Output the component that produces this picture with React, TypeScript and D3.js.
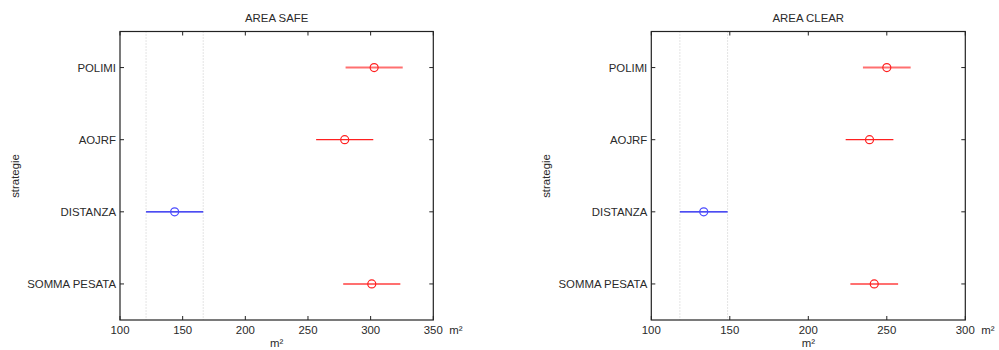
import React from "react";
import { scaleLinear } from "d3";

// strategies, top to bottom
const categories = ["POLIMI", "AOJRF", "DISTANZA", "SOMMA PESATA"];

// AREA SAFE: group means and interval half width
const safeMeans = [302.8, 279.3, 143.6, 300.9];
const safeHalfWidth = 22.8;
const safeTicks = [100, 150, 200, 250, 300, 350];

// AREA CLEAR
const clearMeans = [250.0, 239.0, 133.4, 242.0];
const clearHalfWidth = 15.2;
const clearTicks = [100, 150, 200, 250, 300];

// which group is selected (blue) in the comparison
const selected = 2;

const FONT = "'Liberation Sans', Arial, sans-serif";

function Panel({ x0, x1, title, means, half, ticks }) {
  const top = 31.5;
  const bottom = 320;
  const xScale = scaleLinear().domain([ticks[0], ticks[ticks.length - 1]]).range([x0, x1]);
  const yScale = scaleLinear().domain([0.5, categories.length + 0.5]).range([top, bottom]);
  const selLo = means[selected] - half;
  const selHi = means[selected] + half;

  return (
    <g fontFamily={FONT} fontSize={11.4} fill="#2a2a2a">
      <text x={(x0 + x1) / 2} y={22} textAnchor="middle">{title}</text>

      {/* dotted limits of the selected group */}
      {[selLo, selHi].map((v, i) => (
        <line key={i} x1={xScale(v)} x2={xScale(v)} y1={top} y2={bottom}
          stroke="#c8c8c8" strokeDasharray="1,2" />
      ))}

      {/* x ticks top and bottom */}
      {ticks.map((t) => (
        <g key={t}>
          <line x1={xScale(t)} x2={xScale(t)} y1={bottom} y2={bottom - 4} stroke="#222" />
          <line x1={xScale(t)} x2={xScale(t)} y1={top} y2={top + 4} stroke="#222" />
          <text x={xScale(t)} y={334} textAnchor="middle">{t}</text>
        </g>
      ))}

      {/* y ticks and labels */}
      {categories.map((c, i) => (
        <g key={c}>
          <line x1={x0} x2={x0 + 4} y1={yScale(i + 1)} y2={yScale(i + 1)} stroke="#222" />
          <line x1={x1} x2={x1 - 4} y1={yScale(i + 1)} y2={yScale(i + 1)} stroke="#222" />
          <text x={x0 - 4} y={yScale(i + 1) + 4} textAnchor="end">{c}</text>
        </g>
      ))}

      {/* intervals */}
      {means.map((m, i) => {
        const isSel = i === selected;
        const light = i === 0 || i === 3;
        const col = isSel ? "#1010ee" : light ? "#ff7070" : "#ff2020";
        const y = yScale(i + 1);
        return (
          <g key={i}>
            <line x1={xScale(m - half)} x2={xScale(m + half)} y1={y} y2={y}
              stroke={col} strokeWidth={light ? 2 : 1.3} />
            <circle cx={xScale(m)} cy={y} r={4} fill="none"
              stroke={isSel ? "#4a4aff" : "#ff2020"} strokeWidth={1.2} />
          </g>
        );
      })}

      <rect x={x0} y={top} width={x1 - x0} height={bottom - top}
        fill="none" stroke="#222" strokeWidth={1.2} />

      <text x={(x0 + x1) / 2} y={347} textAnchor="middle">m²</text>
      <text x={x1 + 16} y={334}>m²</text>
      <text transform={`translate(${x0 - 101},176) rotate(-90)`} textAnchor="middle">strategie</text>
    </g>
  );
}

export default function App() {
  return (
    <svg width={999} height={350} style={{ position: "absolute", left: 0, top: 0, background: "#fff" }}>
      <rect width={999} height={350} fill="#fff" />
      <Panel x0={120} x1={433.3} title="AREA SAFE" means={safeMeans} half={safeHalfWidth} ticks={safeTicks} />
      <Panel x0={651.3} x1={965.3} title="AREA CLEAR" means={clearMeans} half={clearHalfWidth} ticks={clearTicks} />
    </svg>
  );
}
